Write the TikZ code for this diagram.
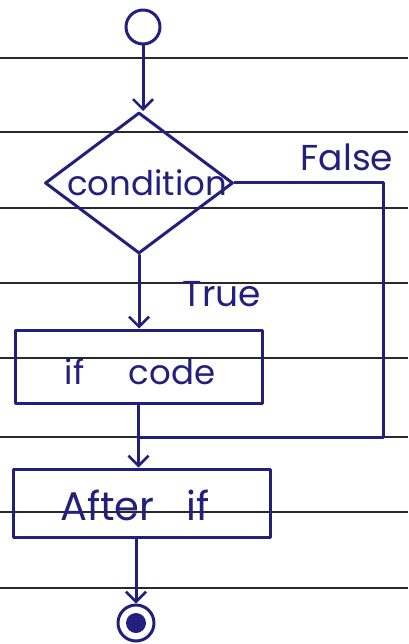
\documentclass[tikz,border=0pt]{standalone}
\usepackage{fontspec}
\setmainfont{Poppins}
\usetikzlibrary{shapes.geometric,arrows.meta}
\definecolor{ink}{RGB}{35,32,125}
\definecolor{ruling}{RGB}{40,40,45}
\begin{document}
\begin{tikzpicture}[x=1pt,y=-1pt,
  pen/.style={draw=ink,line width=3pt,line cap=round,line join=round},
  flow/.style={pen,-{Straight Barb[length=10pt,width=20pt,line width=2.6pt]}},
  box/.style={pen,rectangle,inner sep=0pt},
  lbl/.style={text=ink,font=\fontsize{34}{36}\selectfont},
  tag/.style={text=ink,font=\fontsize{36}{38}\selectfont},
]
\useasboundingbox (0,0) rectangle (408,644);
\fill[white] (0,0) rectangle (408,644);
% ruled notebook paper
\foreach \y in {58,132,208,283,358,437,512,588}
  \draw[ruling,line width=2.2pt] (0,\y) -- (408,\y);

% states and actions
\node[circle,pen,minimum size=34pt,inner sep=0pt] (start) at (143,27) {};
\node[diamond,pen,minimum width=188pt,minimum height=141pt,inner sep=0pt,lbl]
  (cond) at (139,183) {\makebox[0pt]{\hspace{16pt}condition}};
\node[box,minimum width=247pt,minimum height=73pt] (ifc) at (138.5,366.5) {};
\node[lbl,anchor=center] (ifctext) at (140,372) {if\hspace{1.3em}code};
\node[box,minimum width=257pt,minimum height=68pt] (after) at (141.5,503) {};
\node[tag,font=\fontsize{40}{42}\selectfont,anchor=center] (aftertext) at (135,505) {After\hspace{0.8em}if};
\node[circle,pen,minimum size=36pt,inner sep=0pt] (end) at (136,623) {};
\node[circle,fill=ink,minimum size=20pt,inner sep=0pt] (endcore) at (end) {};

% branch labels
\node[tag] (truelbl) at (222,294) {True};
\node[tag] (falselbl) at (347,157) {False};

% connectors
\coordinate (fcorner) at (383,437);
\coordinate (join) at (ifc.south |- fcorner);
\draw[flow] (start) -- (start |- cond.north);
\draw[flow] (cond.south) -- (cond.south |- ifc.north);
\draw[pen] (cond.east) -| (fcorner) -- (join);
\draw[pen] (ifc.south) -- (join);
\draw[flow] (join) -- (join |- after.north);
\draw[flow] (end |- after.south) -- (end.north);
\end{tikzpicture}
\end{document}
